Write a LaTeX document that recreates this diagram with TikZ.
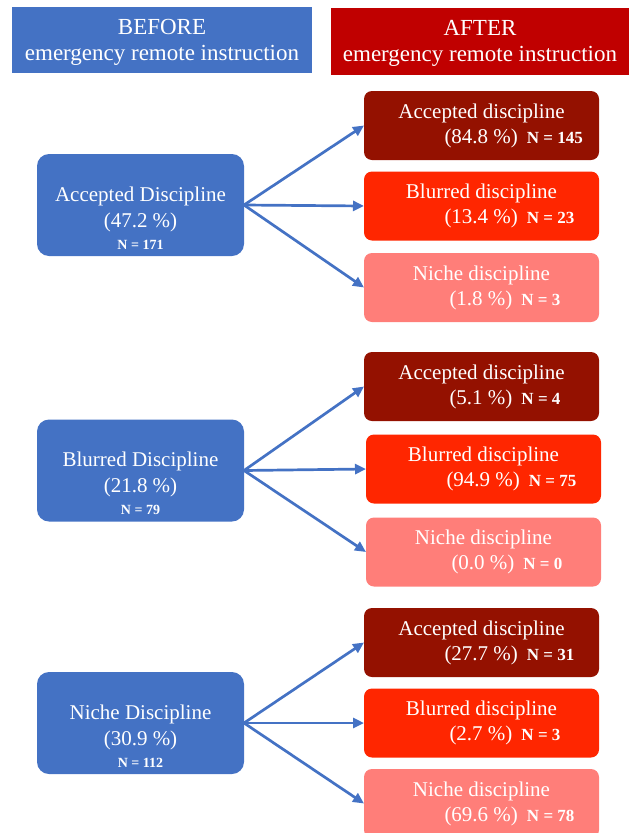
\documentclass[tikz,border=0pt]{standalone}
\usepackage{fontspec}
\setmainfont{Liberation Serif}
\usetikzlibrary{arrows.meta}
\definecolor{beforeblue}{HTML}{4472C4}
\definecolor{afterred}{HTML}{C00000}
\definecolor{accdark}{HTML}{941100}
\definecolor{blurred}{HTML}{FF2600}
\definecolor{nichepink}{HTML}{FF7E79}
% second line of an AFTER box: share and count
\newcommand{\shareline}[3][37pt]{\makebox[0pt][l]{\hspace*{-#1}(#2~\%)\hspace{9pt}{\fontsize{17}{17}\selectfont\bfseries N = #3}}}
\newcommand{\srclines}[3]{\rule{0pt}{40pt}#1\\(#2~\%)\\[-4pt]{\fontsize{14}{14}\selectfont\bfseries N = #3}}

\begin{document}
\begin{tikzpicture}[x=1pt, y=-1pt,
  every node/.style={text=white, inner sep=0pt, outer sep=0pt, align=center},
  head/.style={minimum width=300pt, minimum height=66pt, font=\fontsize{23}{26}\selectfont},
  src/.style={fill=beforeblue, rounded corners=12pt, minimum width=207pt, minimum height=102pt, font=\fontsize{21}{26}\selectfont},
  dst/.style={rounded corners=8pt, minimum width=235pt, minimum height=69pt, font=\fontsize{21}{25}\selectfont},
  flow/.style={draw=beforeblue, line width=2.7pt, -{Triangle[length=11pt, width=10pt]}}]
  \useasboundingbox (0,0) rectangle (629,833);
  % headers
  \node[head, fill=beforeblue] (before) at (162,40) {\rule{0pt}{19pt}BEFORE\\emergency remote instruction};
  \node[head, fill=afterred, minimum width=298pt, minimum height=67pt] (after) at (480,41.5) {\rule{0pt}{19pt}AFTER\\emergency remote instruction};
  % before
  \node[src] (acc) at (140.5,205) {\srclines{Accepted Discipline}{47.2}{171}};
  \node[src] (blur) at (140.5,470.5) {\srclines{Blurred Discipline}{21.8}{79}};
  \node[src] (niche) at (140.5,723) {\srclines{Niche Discipline}{30.9}{112}};
  % after, from accepted
  \node[dst, fill=accdark] (acc1) at (481.5,125.5) {Accepted discipline\\\shareline{84.8}{145}};
  \node[dst, fill=blurred] (blur1) at (481.5,206) {Blurred discipline\\\shareline{13.4}{23}};
  \node[dst, fill=nichepink] (niche1) at (481.5,287.5) {Niche discipline\\\shareline[32pt]{1.8}{3}};
  % after, from blurred
  \node[dst, fill=accdark] (acc2) at (481.5,386.5) {Accepted discipline\\\shareline[32pt]{5.1}{4}};
  \node[dst, fill=blurred] (blur2) at (483.5,469) {Blurred discipline\\\shareline{94.9}{75}};
  \node[dst, fill=nichepink] (niche2) at (483.5,552) {Niche discipline\\\shareline[32pt]{0.0}{0}};
  % after, from niche
  \node[dst, fill=accdark] (acc3) at (481.5,642.5) {Accepted discipline\\\shareline{27.7}{31}};
  \node[dst, fill=blurred] (blur3) at (481.5,723) {Blurred discipline\\\shareline[32pt]{2.7}{3}};
  \node[dst, fill=nichepink] (niche3) at (481.5,803.5) {Niche discipline\\\shareline{69.6}{78}};
  % arrows
  \foreach \g/\s in {1/acc, 2/blur, 3/niche}
    \foreach \t in {acc, blur, niche}
      \draw[flow] (\s.east) -- (\t\g.west);
\end{tikzpicture}
\end{document}
